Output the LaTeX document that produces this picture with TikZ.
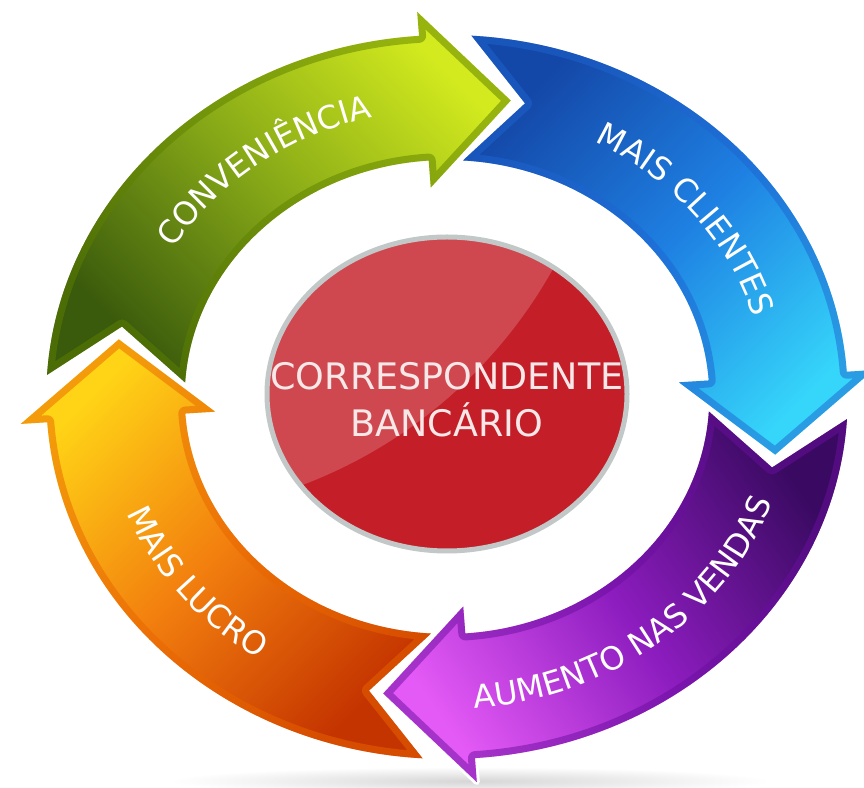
\documentclass[tikz,border=0pt]{standalone}
\usepackage{fontspec}
\setmainfont{DejaVu Sans}
\usetikzlibrary{decorations.text,shapes.geometric}
\definecolor{gDark}{HTML}{3A5A0C}
\definecolor{gMid}{HTML}{86A817}
\definecolor{gLight}{HTML}{D2EA1E}
\definecolor{gEdge}{HTML}{5E8000}
\definecolor{bDark}{HTML}{1448A8}
\definecolor{bMid}{HTML}{1E80E2}
\definecolor{bLight}{HTML}{36D6FA}
\definecolor{bEdge}{HTML}{1E64D0}
\definecolor{pDark}{HTML}{3A0A62}
\definecolor{pMid}{HTML}{8C1CBE}
\definecolor{pLight}{HTML}{E45AF6}
\definecolor{pEdge}{HTML}{6A0E9E}
\definecolor{oDark}{HTML}{C43400}
\definecolor{oMid}{HTML}{F27E0E}
\definecolor{oLight}{HTML}{FFD416}
\definecolor{oEdge}{HTML}{E86400}
\definecolor{hubRed}{HTML}{C41F28}
\definecolor{hubHi}{HTML}{D0484F}
\definecolor{hubRim}{HTML}{C2C8C8}
\definecolor{hubText}{HTML}{F6E8E8}

\newcommand\ringarrow[4]{(#1:362) arc[start angle=#1,end angle=#2,radius=362] -- (#2:386) -- (#3:302) -- (#2:210) -- (#2:237) arc[start angle=#2,end angle=#1,radius=237] -- (#4:302) -- cycle}

\newcommand\ringpiece[9]{%
  \path[draw=white,line width=6,line join=round] \ringarrow{#1}{#2}{#3}{#4};
  \shade[top color=#7,bottom color=#5,middle color=#6,shading angle=#9] \ringarrow{#1}{#2}{#3}{#4};
  \begin{scope}
    \clip \ringarrow{#1}{#2}{#3}{#4};
    \draw[#8,line width=14,opacity=.5,line join=round] \ringarrow{#1}{#2}{#3}{#4};
  \end{scope}}

\newcommand\ringfont{\fontsize{32}{32}\selectfont\color{white}}

\newcommand\ringlabel[4]{%
  \path[decorate,decoration={text along path,text align=center,text={|\ringfont|#4}}]
    ({447+1.107*(#3)*cos(#1)},{390+(#3)*sin(#1)})
    arc[start angle=#1,end angle=#2,x radius={1.107*(#3)},y radius=#3];}

\begin{document}
\begin{tikzpicture}[x=1pt,y=1pt]
\useasboundingbox (0,0) rectangle (864,787);
\fill[white] (0,0) rectangle (864,787);
\shade[inner color=black!16,outer color=white] (470,6) ellipse[x radius=300,y radius=14];

\begin{scope}[shift={(447,390)},xscale=1.107]
  % green: Convenience
  \ringpiece{176.5}{94}{79}{166.5}{gDark}{gMid}{gLight}{gEdge}{-45}
  % blue: Mais clientes
  \ringpiece{86.5}{4}{-11}{76.5}{bDark}{bMid}{bLight}{bEdge}{-135}
  % purple: Aumento nas vendas
  \ringpiece{-3.5}{-86}{-101}{-13.5}{pDark}{pMid}{pLight}{pEdge}{125}
  % orange: Mais lucro
  \ringpiece{-93.5}{-176}{-191}{-103.5}{oDark}{oMid}{oLight}{oEdge}{45}
\end{scope}

\ringlabel{167}{87}{288}{CONVENIÊNCIA}
\ringlabel{78.5}{-1.5}{288}{MAIS CLIENTES}
\ringlabel{-97}{-7}{312}{AUMENTO NAS VENDAS}
\ringlabel{178.5}{258.5}{312}{MAIS LUCRO}

% central hub
\node[ellipse,minimum width=362pt,minimum height=316pt,inner sep=0pt,fill=hubRed] (hub) at (447,393) {};
\begin{scope}
  \clip (hub.center) ellipse[x radius=180,y radius=157];
  \fill[hubHi] (132,753) circle[radius=482];
\end{scope}
\draw[hubRim,line width=5] (hub.center) ellipse[x radius=180,y radius=157];
\node[font=\fontsize{36.5}{47}\selectfont,text=hubText,align=center,inner sep=0pt] (hubtext) at (447,387) {CORRESPONDENTE\\BANCÁRIO};
\end{tikzpicture}
\end{document}
